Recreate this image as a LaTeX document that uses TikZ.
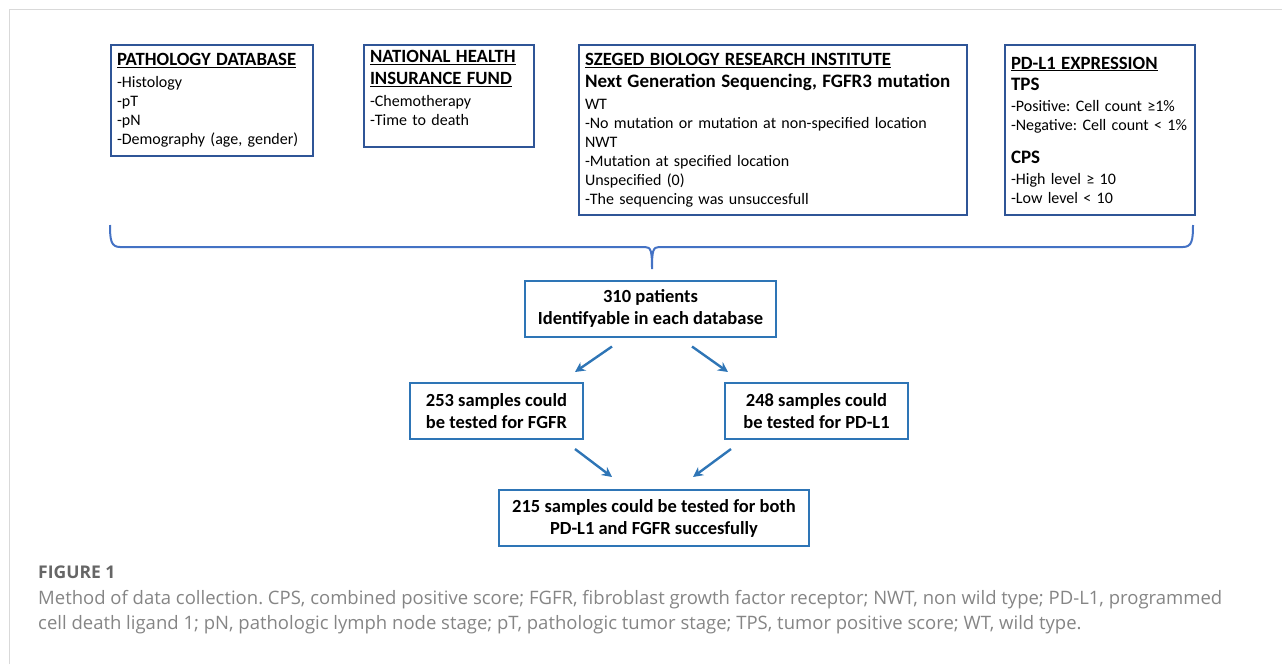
\documentclass[tikz,border=0pt]{standalone}
\usepackage{fontspec}
\setmainfont{Carlito}
\newfontfamily\capfont{Open Sans}
\usetikzlibrary{arrows.meta,positioning}

\definecolor{boxblue}{HTML}{2F5597}
\definecolor{flowblue}{HTML}{2E75B6}
\definecolor{braceblue}{HTML}{4472C4}
\definecolor{capgray}{HTML}{858585}
\definecolor{framegray}{HTML}{D9D9D9}

\newcommand{\dbtitle}[1]{{\fontsize{18.7}{22}\selectfont\bfseries\underline{#1}}}
\newcommand{\dbsub}[1]{{\fontsize{19}{22}\selectfont\bfseries #1}}

\begin{document}
\frenchspacing
\begin{tikzpicture}[x=1pt, y=-1pt,
		source/.style={draw=boxblue, line width=2pt, anchor=north west, align=left, inner xsep=6pt, inner ysep=4pt, font=\fontsize{16}{19}\selectfont},
		flow/.style={draw=flowblue, line width=2pt, align=center, minimum height=56pt, font=\fontsize{18.5}{22}\selectfont\bfseries},
		arrow/.style={-{Stealth[length=10pt,width=10pt]}, draw=flowblue, line width=2.4pt},
		brace/.style={draw=braceblue, line width=2pt},
	]
		\useasboundingbox (0,0) rectangle (1282,664);
		\draw[framegray, line width=1pt] (9,664) -- (9,9) -- (1282,9);
		
		% data sources
		\node (pathdb) [source, text width=190pt, minimum height=111pt] at (110,44)
			{\dbtitle{PATHOLOGY DATABASE}\\[3pt]-Histology\\-pT\\-pN\\-Demography (age, gender)};
		\node (health) [source, text width=158pt, minimum height=102pt] at (363,44)
			{\dbtitle{NATIONAL HEALTH}\\[3pt]\dbtitle{INSURANCE FUND}\\[3pt]-Chemotherapy\\-Time to death\rule[-16pt]{0pt}{0pt}};
		\node (szeged) [source, text width=376pt, minimum height=170pt] at (578,44)
			{\dbtitle{SZEGED BIOLOGY RESEARCH INSTITUTE}\\[3pt]\dbsub{Next Generation Sequencing, FGFR3 mutation}\\[3pt]WT\\-No mutation or mutation at non-specified location\\NWT\\-Mutation at specified location\\Unspecified (0)\\-The sequencing was unsuccesfull};
		\node (pdexp) [source, text width=178pt, minimum height=170pt] at (1004,44)
			{\dbtitle{PD-L1 EXPRESSION}\\[2pt]\dbsub{TPS}\\[2pt]-Positive: Cell count ≥1\%\\-Negative: Cell count < 1\%\\[14pt]\dbsub{CPS}\\[2pt]-High level ≥ 10\\-Low level < 10};
		
		\draw[brace] (110,225) .. controls (110,240) and (111,247) .. (120,247) -- (645,247)
			.. controls (651,247) and (652,251) .. (652,269) .. controls (652,251) and (653,247) .. (659,247)
			-- (1183,247) .. controls (1192,247) and (1193,240) .. (1193,225);
		
		% patient flow
		\node (pat) [flow, minimum width=251pt] at (650.5,308.5) {310 patients\\Identifyable in each database};
		\node (fgfr) [flow, minimum width=173pt] at (496.5,411) {253 samples could\\be tested for FGFR};
		\node (pdl) [flow, minimum width=183pt] at (816.5,411) {248 samples could\\be tested for PD-L1};
		\node (both) [flow, minimum width=310pt] at (654,518) {215 samples could be tested for both\\PD-L1 and FGFR succesfully};
		
		\draw[arrow] ([xshift=-38.5pt,yshift=-9pt]pat.south) -- ([xshift=78.5pt,yshift=10pt]fgfr.north);
		\draw[arrow] ([xshift=41.5pt,yshift=-9pt]pat.south) -- ([xshift=-88.5pt,yshift=10pt]pdl.north);
		\draw[arrow] ([xshift=78.5pt,yshift=-9pt]fgfr.south) -- ([xshift=-42pt,yshift=12pt]both.north);
		\draw[arrow] ([xshift=-85.5pt,yshift=-9pt]pdl.south) -- ([xshift=39pt,yshift=12pt]both.north);
		
		% caption
		\node (figlabel) [anchor=base west, inner sep=0pt, text=black!60, font=\capfont\bfseries\fontsize{17.5}{20}\selectfont] at (38,578) {FIGURE 1};
		\node (caption) [anchor=north west, inner sep=0pt, align=left, text=capgray, font=\capfont\fontsize{18.5}{25}\selectfont] at (38,590)
			{Method of data collection. CPS, combined positive score; FGFR, fibroblast growth factor receptor; NWT, non wild type; PD-L1, programmed\\cell death ligand 1; pN, pathologic lymph node stage; pT, pathologic tumor stage; TPS, tumor positive score; WT, wild type.};
	\end{tikzpicture}
\end{document}
